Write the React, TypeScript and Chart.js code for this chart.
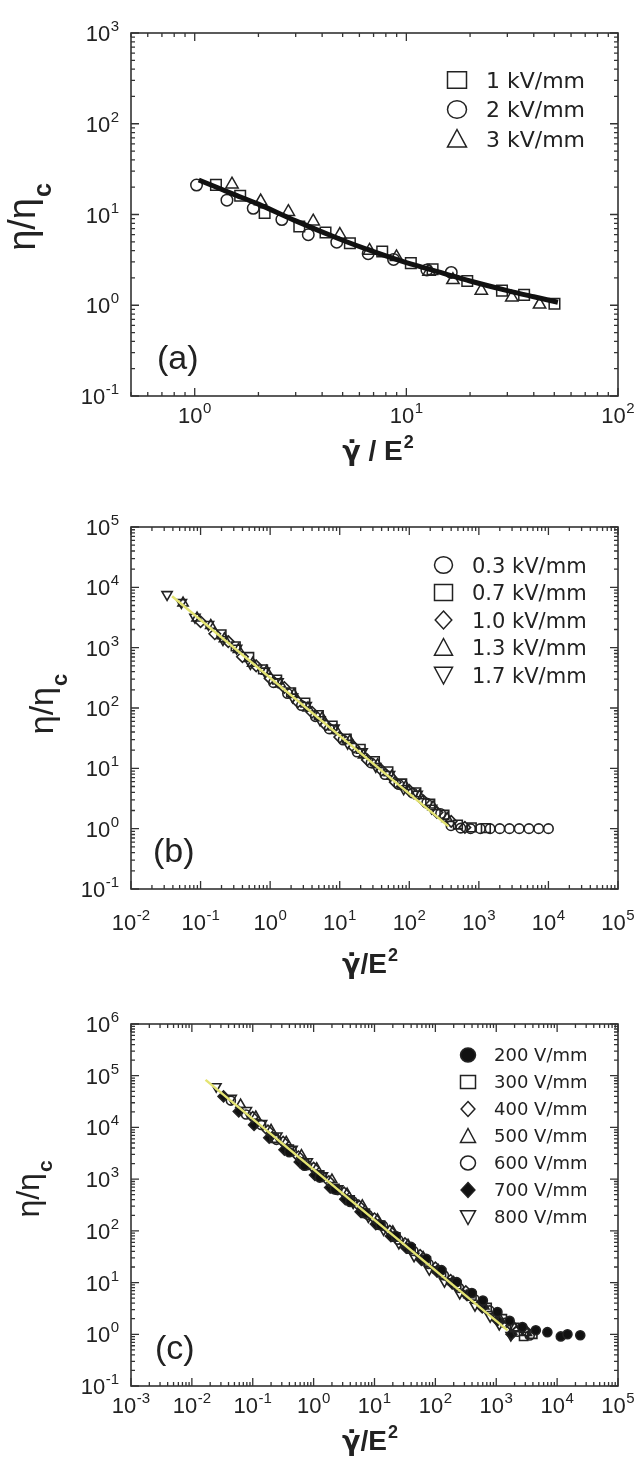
import React, { useEffect, useRef } from 'react';
import { Chart, registerables } from 'chart.js';

Chart.register(...registerables);

const FONT = "'Liberation Sans', Arial, Helvetica, sans-serif";
const LEG_FONT = "'DejaVu Sans', Verdana, sans-serif";
const GREEK_FONT = "'DejaVu Sans', 'Liberation Sans', sans-serif";
const INK = '#222';
const FIT_YELLOW = '#e4e472';

// ---------------- Panel (a) ----------------
const aXRange = [0.5, 100];
const aYRange = [0.1, 1000];
const aFitX = [1.045, 1.5, 2, 3, 5, 7, 10, 15, 20, 30, 40, 52];
const aFitY = [24, 17, 13, 8.5, 5.2, 3.9, 2.95, 2.25, 1.85, 1.45, 1.24, 1.08];
const a1kvX = [1.26, 1.64, 2.14, 3.12, 4.15, 5.41, 7.69, 10.5, 13.3, 19.4, 28.3, 36.0, 50.1];
const a1kvY = [21.2, 16.1, 10.4, 7.38, 6.33, 4.83, 3.91, 2.91, 2.49, 1.85, 1.45, 1.3, 1.04];
const a2kvX = [1.02, 1.42, 1.89, 2.58, 3.44, 4.69, 6.6, 8.7, 12.5, 16.3];
const a2kvY = [21.1, 14.4, 11.7, 8.8, 6.0, 4.95, 3.7, 3.2, 2.45, 2.3];
const a3kvX = [1.5, 2.05, 2.77, 3.63, 4.85, 6.7, 8.98, 12.8, 16.6, 22.6, 31.5, 42.6];
const a3kvY = [21.5, 14.0, 10.7, 8.4, 6.0, 4.0, 3.4, 2.35, 1.9, 1.45, 1.22, 1.02];

// ---------------- Panel (b) ----------------
const bXRange = [0.01, 100000];
const bYRange = [0.1, 100000];
const bFitX = [0.039, 367];
const bFitY = [7110, 1.09];
const b03X = [1.12, 1.78, 2.82, 4.47, 7.08, 11.2, 17.8, 28.2, 44.7, 70.8, 112, 178, 282, 398, 550, 760, 1050, 1450, 2000, 2750, 3800, 5250, 7250, 10000];
const b03Y = [263, 174, 110, 72, 45, 29.5, 18.6, 12.3, 7.9, 5.4, 3.9, 2.66, 1.78, 1.12, 1.02, 1.0, 1.0, 1.0, 1.0, 1.0, 1.0, 1.0, 1.0, 1.0];
const b07X = [0.2, 0.32, 0.5, 0.79, 1.26, 2.0, 3.2, 5.0, 7.9, 12.6, 20, 32, 50, 79, 126, 200, 320, 500, 790, 1260];
const b07Y = [1660, 1050, 700, 437, 295, 182, 123, 76, 51, 31, 21, 13.2, 8.9, 5.6, 4.0, 2.6, 1.7, 1.17, 1.05, 1.02];
const b10X = [0.1, 0.16, 0.25, 0.4, 0.63, 1.0, 1.6, 2.5, 4.0, 6.3, 10, 16, 25, 40, 63, 100, 160, 250, 400, 630];
const b10Y = [2690, 1700, 1260, 708, 500, 309, 219, 126, 85, 52.5, 33, 22.4, 13.8, 9.3, 5.9, 4.3, 2.9, 1.86, 1.32, 1.05];
const b13X = [0.056, 0.089, 0.14, 0.22, 0.35, 0.56, 0.89, 1.4, 2.2, 3.5, 5.6, 8.9, 14, 22, 35, 56, 89, 140, 220, 350];
const b13Y = [5500, 3090, 2340, 1410, 935, 550, 405, 250, 167, 100, 69, 42.5, 28.8, 16.7, 11.5, 7.4, 5.0, 3.5, 2.3, 1.48];
const b17X = [0.033, 0.053, 0.083, 0.13, 0.21, 0.33, 0.52, 0.83, 1.3, 2.1, 3.3, 5.2, 8.3, 13, 21, 33, 52, 83, 130, 210];
const b17Y = [7600, 5600, 3200, 2420, 1360, 980, 545, 410, 272, 152, 110, 64, 46.5, 26, 18.8, 10.7, 7.9, 4.6, 3.73, 2.19];

// ---------------- Panel (c) ----------------
const cXRange = [0.001, 100000];
const cYRange = [0.1, 1000000];
const cFitX = [0.0168, 1540];
const cFitY = [83000, 1.19];
const c200X = [0.398, 0.708, 1.26, 2.24, 3.98, 7.08, 12.6, 22.4, 39.8, 70.8, 126, 224, 398, 603, 1047, 1660, 2692, 4467, 6918, 11480, 14790, 23990];
const c200Y = [3310, 1820, 1070, 631, 363, 219, 129, 79.4, 49, 28.8, 17.4, 10.2, 6.3, 4.5, 2.7, 1.82, 1.38, 1.2, 1.1, 0.91, 1.0, 0.96];
const c300X = [0.224, 0.398, 0.708, 1.26, 2.24, 3.98, 7.08, 12.6, 22.4, 39.8, 70.8, 126, 224, 398, 708, 1259, 1995, 2818, 3981];
const c300Y = [6170, 3800, 2000, 1200, 660, 398, 219, 129, 75.9, 44.7, 26.3, 15.5, 9.1, 5.5, 3.3, 2.0, 1.35, 0.91, 1.0];
const c400X = [0.1, 0.178, 0.316, 0.562, 1, 1.78, 3.16, 5.62, 10, 17.8, 31.6, 56.2, 100, 178, 316, 562, 1000, 1778, 3162];
const c400Y = [15800, 8700, 5250, 2750, 1660, 912, 550, 302, 174, 100, 57.5, 33.9, 19.5, 11.2, 6.8, 4.0, 2.45, 1.48, 1.12];
const c500X = [0.0631, 0.112, 0.2, 0.355, 0.631, 1.12, 2.0, 3.55, 6.31, 11.2, 20, 35.5, 63.1, 112, 200, 355, 631, 1122, 1995, 3162];
const c500Y = [27500, 16200, 8900, 5250, 2900, 1620, 977, 525, 309, 166, 97.7, 53.7, 30.9, 17.4, 10.2, 5.75, 3.5, 2.04, 1.32, 1.07];
const c600X = [0.0437, 0.0776, 0.138, 0.245, 0.437, 0.776, 1.38, 2.45, 4.37, 7.76, 13.8, 24.5, 43.7, 77.6, 138, 245, 437, 776, 1380, 2239, 3548];
const c600Y = [33000, 17800, 11200, 5750, 3550, 1860, 1120, 617, 372, 204, 126, 67.6, 40.7, 22.9, 13.8, 7.9, 4.8, 2.9, 1.66, 1.12, 0.95];
const c700X = [0.0331, 0.0589, 0.105, 0.186, 0.331, 0.589, 1.05, 1.86, 3.31, 5.89, 10.5, 18.6, 33.1, 58.9, 105, 186, 331, 589, 1047, 1778];
const c700Y = [39800, 20400, 11200, 6300, 3700, 2140, 1200, 690, 410, 234, 135, 79, 47, 27.5, 16.6, 9.8, 5.7, 3.3, 1.86, 1.0];
const c800X = [0.0251, 0.0447, 0.0794, 0.141, 0.251, 0.447, 0.794, 1.41, 2.51, 4.47, 7.94, 14.1, 25.1, 44.7, 79.4, 141, 251, 447, 794, 1122, 1738];
const c800Y = [61700, 37000, 21400, 12000, 6900, 3800, 2190, 1175, 660, 347, 186, 105, 57.5, 32.4, 17.8, 10.5, 6.2, 3.6, 2.2, 1.55, 0.95];

// ---------------- types & helpers ----------------
type Sym = 'square' | 'circle' | 'diamond' | 'triangle' | 'triangleDown';

interface SeriesDef {
  label: string;
  xs: number[];
  ys: number[];
  sym: Sym;
  filled: boolean;
}

interface PanelSpec {
  key: string;
  height: number;
  top: number;
  bottom: number;
  xRange: number[];
  yRange: number[];
  fitX: number[];
  fitY: number[];
  fitColor: string;
  fitWidth: number;
  fitTension: number;
  series: SeriesDef[];
  markerScale: number;
  markerBorder: number;
  xLabelBase: number;
  xTitleRest: string;
  xTitleBase: number;
  xTitleCx: number;
  yTitleX: number;
  yTitleCy: number;
  yTitleSize: number;
  tag: string;
  tagX: number;
  legendSymX: number;
  legendTextX: number;
  legendRows: number[];
  legendFont: number;
  legendSym: number;
}

const PLOT_LEFT = 131;
const PLOT_RIGHT = 618;
const W = 638;

const symStyle: Record<Sym, { pointStyle: string; rotation: number; r: number }> = {
  square: { pointStyle: 'rect', rotation: 0, r: 6.5 },
  circle: { pointStyle: 'circle', rotation: 0, r: 5 },
  diamond: { pointStyle: 'rectRot', rotation: 0, r: 6 },
  triangle: { pointStyle: 'triangle', rotation: 0, r: 6.2 },
  triangleDown: { pointStyle: 'triangle', rotation: 180, r: 6.2 },
};

function pts(xs: number[], ys: number[]) {
  return xs.map((x, i) => ({ x, y: ys[i] }));
}

function drawPow(ctx: CanvasRenderingContext2D, exp: number, x: number, base: number, align: 'center' | 'right') {
  const b = '10';
  const s = String(exp);
  const bf = `22px ${FONT}`;
  const sf = `15px ${FONT}`;
  ctx.font = bf;
  const wb = ctx.measureText(b).width;
  ctx.font = sf;
  const ws = ctx.measureText(s).width;
  const gap = 0.5;
  const total = wb + gap + ws;
  const x0 = align === 'center' ? x - total / 2 : x - total;
  ctx.textAlign = 'left';
  ctx.textBaseline = 'alphabetic';
  ctx.font = bf;
  ctx.fillText(b, x0, base);
  ctx.font = sf;
  ctx.fillText(s, x0 + wb + gap, base - 10);
}

function drawSym(ctx: CanvasRenderingContext2D, sym: Sym, filled: boolean, x: number, y: number, s: number) {
  const h = s / 2;
  ctx.beginPath();
  if (sym === 'square') {
    ctx.rect(x - h, y - h * 0.88, s, s * 0.88);
  } else if (sym === 'circle') {
    ctx.ellipse(x, y, h, h * 0.92, 0, 0, Math.PI * 2);
  } else if (sym === 'diamond') {
    ctx.moveTo(x, y - h);
    ctx.lineTo(x + h * 0.92, y);
    ctx.lineTo(x, y + h);
    ctx.lineTo(x - h * 0.92, y);
    ctx.closePath();
  } else if (sym === 'triangle') {
    ctx.moveTo(x, y - h);
    ctx.lineTo(x + h, y + h * 0.85);
    ctx.lineTo(x - h, y + h * 0.85);
    ctx.closePath();
  } else {
    ctx.moveTo(x - h, y - h * 0.85);
    ctx.lineTo(x + h, y - h * 0.85);
    ctx.lineTo(x, y + h);
    ctx.closePath();
  }
  if (filled) {
    ctx.fillStyle = '#111';
    ctx.fill();
  }
  ctx.lineWidth = 1.5;
  ctx.strokeStyle = INK;
  ctx.stroke();
}

function logTicks(min: number, max: number) {
  const out: { v: number; major: boolean; d: number }[] = [];
  const d0 = Math.floor(Math.log10(min));
  const d1 = Math.ceil(Math.log10(max));
  for (let d = d0; d <= d1; d++) {
    for (let m = 1; m <= 9; m++) {
      const v = m * Math.pow(10, d);
      if (v >= min * 0.9999 && v <= max * 1.0001) out.push({ v, major: m === 1, d });
    }
  }
  return out;
}

function makeDecor(spec: PanelSpec) {
  return {
    id: 'decor_' + spec.key,
    afterDraw(chart: any) {
      const ctx: CanvasRenderingContext2D = chart.ctx;
      const { left, right, top, bottom } = chart.chartArea;
      const xs = chart.scales.x;
      const ys = chart.scales.y;
      ctx.save();
      // frame
      ctx.strokeStyle = '#333';
      ctx.lineWidth = 1.6;
      ctx.strokeRect(left, top, right - left, bottom - top);
      // ticks
      ctx.lineWidth = 1.3;
      ctx.beginPath();
      for (const t of logTicks(spec.xRange[0], spec.xRange[1])) {
        const px = xs.getPixelForValue(t.v);
        const len = t.major ? 8 : 4;
        ctx.moveTo(px, bottom);
        ctx.lineTo(px, bottom - len);
        ctx.moveTo(px, top);
        ctx.lineTo(px, top + len);
      }
      for (const t of logTicks(spec.yRange[0], spec.yRange[1])) {
        const py = ys.getPixelForValue(t.v);
        const len = t.major ? 8 : 4;
        ctx.moveTo(left, py);
        ctx.lineTo(left + len, py);
        ctx.moveTo(right, py);
        ctx.lineTo(right - len, py);
      }
      ctx.stroke();
      // tick labels
      ctx.fillStyle = INK;
      for (const t of logTicks(spec.xRange[0], spec.xRange[1])) {
        if (!t.major) continue;
        drawPow(ctx, t.d, xs.getPixelForValue(t.v), spec.xLabelBase, 'center');
      }
      for (const t of logTicks(spec.yRange[0], spec.yRange[1])) {
        if (!t.major) continue;
        drawPow(ctx, t.d, left - 12, ys.getPixelForValue(t.v) + 8, 'right');
      }
      // x title: gamma-dot / E^2
      {
        const gf = `bold 27px ${GREEK_FONT}`;
        const mf = `bold 28px ${FONT}`;
        const sf = `bold 18px ${FONT}`;
        const gtxt = 'γ̇';
        ctx.font = gf;
        const wg = ctx.measureText(gtxt).width;
        ctx.font = mf;
        const wm = ctx.measureText(spec.xTitleRest).width;
        ctx.font = sf;
        const ws = ctx.measureText('2').width;
        const x0 = spec.xTitleCx - (wg + wm + 1 + ws) / 2;
        ctx.textAlign = 'left';
        ctx.textBaseline = 'alphabetic';
        ctx.font = gf;
        ctx.fillText(gtxt, x0, spec.xTitleBase);
        ctx.font = mf;
        ctx.fillText(spec.xTitleRest, x0 + wg, spec.xTitleBase);
        ctx.font = sf;
        ctx.fillText('2', x0 + wg + wm + 1, spec.xTitleBase - 12);
      }
      // y title (rotated)
      {
        ctx.save();
        ctx.translate(spec.yTitleX, spec.yTitleCy);
        ctx.rotate(-Math.PI / 2);
        const mf = `${spec.yTitleSize}px ${FONT}`;
        const sf = `bold ${Math.round(spec.yTitleSize * 0.66)}px ${FONT}`;
        ctx.font = mf;
        const wm = ctx.measureText('η/η').width;
        ctx.font = sf;
        const ws = ctx.measureText('c').width;
        const x0 = -(wm + 1 + ws) / 2;
        ctx.textAlign = 'left';
        ctx.textBaseline = 'alphabetic';
        ctx.font = mf;
        ctx.fillText('η/η', x0, 0);
        ctx.font = sf;
        ctx.fillText('c', x0 + wm + 1, spec.yTitleSize * 0.42);
        ctx.restore();
      }
      // panel tag
      ctx.font = `34px ${FONT}`;
      ctx.textAlign = 'left';
      ctx.textBaseline = 'alphabetic';
      ctx.fillStyle = INK;
      ctx.fillText(spec.tag, spec.tagX, bottom - 27);
      // legend
      spec.series.forEach((s, i) => {
        const y = spec.legendRows[i];
        drawSym(ctx, s.sym, s.filled, spec.legendSymX, y, spec.legendSym);
        ctx.fillStyle = INK;
        ctx.font = `${spec.legendFont}px ${LEG_FONT}`;
        ctx.textAlign = 'left';
        ctx.textBaseline = 'alphabetic';
        ctx.fillText(s.label, spec.legendTextX, y + spec.legendFont * 0.36);
      });
      ctx.restore();
    },
  };
}

function Panel({ spec }: { spec: PanelSpec }) {
  const ref = useRef<HTMLCanvasElement>(null);
  useEffect(() => {
    const canvas = ref.current;
    if (!canvas) return;
    const datasets: any[] = [
      {
        label: 'fit',
        data: pts(spec.fitX, spec.fitY),
        showLine: true,
        pointRadius: 0,
        borderColor: spec.fitColor,
        borderWidth: spec.fitWidth,
        tension: spec.fitTension,
        fill: false,
        order: 0,
      },
      ...spec.series.map((s, i) => {
        const st = symStyle[s.sym];
        return {
          label: s.label,
          data: pts(s.xs, s.ys),
          showLine: false,
          pointStyle: st.pointStyle,
          rotation: st.rotation,
          pointRotation: st.rotation,
          pointRadius: st.r * spec.markerScale,
          pointBackgroundColor: s.filled ? '#111' : 'rgba(0,0,0,0)',
          pointBorderColor: INK,
          pointBorderWidth: spec.markerBorder,
          order: 1 + i,
        };
      }),
    ];
    const chart = new Chart(canvas, {
      type: 'scatter',
      data: { datasets },
      options: {
        responsive: false,
        animation: false,
        devicePixelRatio: 1,
        events: [],
        layout: {
          padding: { left: PLOT_LEFT, right: W - PLOT_RIGHT, top: spec.top, bottom: spec.height - spec.bottom },
        },
        plugins: {
          legend: { display: false },
          tooltip: { enabled: false },
          title: { display: false },
        },
        scales: {
          x: { type: 'logarithmic', min: spec.xRange[0], max: spec.xRange[1], display: false },
          y: { type: 'logarithmic', min: spec.yRange[0], max: spec.yRange[1], display: false },
        },
      } as any,
      plugins: [makeDecor(spec)],
    });
    return () => chart.destroy();
  }, [spec]);
  return <canvas ref={ref} width={W} height={spec.height} style={{ display: 'block', width: W, height: spec.height }} />;
}

const panelA: PanelSpec = {
  key: 'a',
  height: 485,
  top: 33,
  bottom: 396,
  xRange: aXRange,
  yRange: aYRange,
  fitX: aFitX,
  fitY: aFitY,
  fitColor: '#111',
  fitWidth: 5,
  fitTension: 0.3,
  series: [
    { label: '1 kV/mm', xs: a1kvX, ys: a1kvY, sym: 'square', filled: false },
    { label: '2 kV/mm', xs: a2kvX, ys: a2kvY, sym: 'circle', filled: false },
    { label: '3 kV/mm', xs: a3kvX, ys: a3kvY, sym: 'triangle', filled: false },
  ],
  markerScale: 1.15,
  markerBorder: 1.5,
  xLabelBase: 423,
  xTitleRest: ' / E',
  xTitleBase: 460,
  xTitleCx: 378,
  yTitleX: 35,
  yTitleCy: 217,
  yTitleSize: 38,
  tag: '(a)',
  tagX: 157,
  legendSymX: 457,
  legendTextX: 486,
  legendRows: [80, 109.5, 139],
  legendFont: 22,
  legendSym: 19,
};

const panelB: PanelSpec = {
  key: 'b',
  height: 507,
  top: 42,
  bottom: 404,
  xRange: bXRange,
  yRange: bYRange,
  fitX: bFitX,
  fitY: bFitY,
  fitColor: FIT_YELLOW,
  fitWidth: 2.5,
  fitTension: 0,
  series: [
    { label: '0.3 kV/mm', xs: b03X, ys: b03Y, sym: 'circle', filled: false },
    { label: '0.7 kV/mm', xs: b07X, ys: b07Y, sym: 'square', filled: false },
    { label: '1.0 kV/mm', xs: b10X, ys: b10Y, sym: 'diamond', filled: false },
    { label: '1.3 kV/mm', xs: b13X, ys: b13Y, sym: 'triangle', filled: false },
    { label: '1.7 kV/mm', xs: b17X, ys: b17Y, sym: 'triangleDown', filled: false },
  ],
  markerScale: 0.95,
  markerBorder: 1.6,
  xLabelBase: 445,
  xTitleRest: '/E',
  xTitleBase: 488,
  xTitleCx: 370,
  yTitleX: 53,
  yTitleCy: 219,
  yTitleSize: 34,
  tag: '(b)',
  tagX: 153,
  legendSymX: 443.5,
  legendTextX: 472,
  legendRows: [80, 107.5, 135, 162.5, 190],
  legendFont: 21,
  legendSym: 18,
};

const panelC: PanelSpec = {
  key: 'c',
  height: 466,
  top: 32,
  bottom: 394,
  xRange: cXRange,
  yRange: cYRange,
  fitX: cFitX,
  fitY: cFitY,
  fitColor: FIT_YELLOW,
  fitWidth: 2.5,
  fitTension: 0,
  series: [
    { label: '200 V/mm', xs: c200X, ys: c200Y, sym: 'circle', filled: true },
    { label: '300 V/mm', xs: c300X, ys: c300Y, sym: 'square', filled: false },
    { label: '400 V/mm', xs: c400X, ys: c400Y, sym: 'diamond', filled: false },
    { label: '500 V/mm', xs: c500X, ys: c500Y, sym: 'triangle', filled: false },
    { label: '600 V/mm', xs: c600X, ys: c600Y, sym: 'circle', filled: false },
    { label: '700 V/mm', xs: c700X, ys: c700Y, sym: 'diamond', filled: true },
    { label: '800 V/mm', xs: c800X, ys: c800Y, sym: 'triangleDown', filled: false },
  ],
  markerScale: 0.9,
  markerBorder: 1.6,
  xLabelBase: 421,
  xTitleRest: '/E',
  xTitleBase: 458,
  xTitleCx: 370,
  yTitleX: 39,
  yTitleCy: 197,
  yTitleSize: 32,
  tag: '(c)',
  tagX: 155,
  legendSymX: 468,
  legendTextX: 494,
  legendRows: [63, 90, 117, 144, 171, 198, 225],
  legendFont: 18,
  legendSym: 15,
};

export default function App() {
  return (
    <div style={{ position: 'absolute', left: 0, top: 0, width: W, height: 1458, background: '#fff' }}>
      <Panel spec={panelA} />
      <Panel spec={panelB} />
      <Panel spec={panelC} />
    </div>
  );
}
